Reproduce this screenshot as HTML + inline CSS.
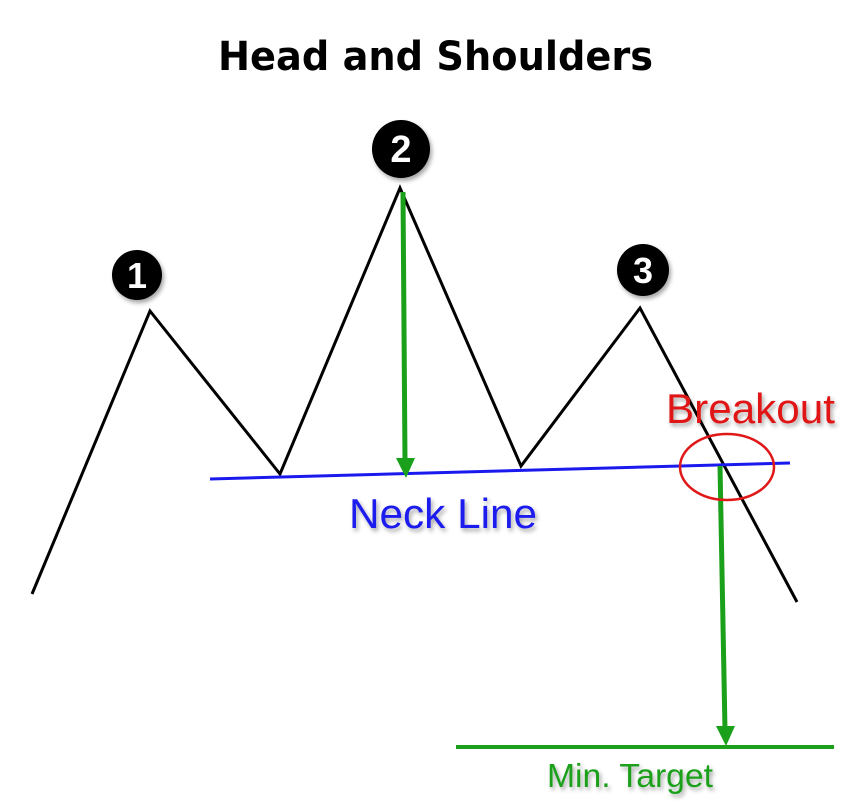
<!DOCTYPE html>
<html><head><style>html,body{margin:0;padding:0;background:#fff}svg{display:block}</style></head>
<body>
<svg width="849" height="805" viewBox="0 0 849 805" xmlns="http://www.w3.org/2000/svg">
<defs><filter id="s" x="-20%" y="-20%" width="150%" height="150%"><feDropShadow dx="2" dy="3" stdDeviation="2" flood-color="#000" flood-opacity="0.35"/></filter></defs>
<text x="218" y="70" textLength="435" lengthAdjust="spacingAndGlyphs" font-family="DejaVu Sans, sans-serif" font-weight="bold" font-size="40" fill="#000">Head and Shoulders</text>
<polyline points="32,594 150,311 280,474 400,188 521,466 640,308 797,602" fill="none" stroke="#000" stroke-width="3"/>
<line x1="210" y1="479" x2="790" y2="463" stroke="#1a1aee" stroke-width="3"/>
<line x1="403" y1="192" x2="405" y2="462" stroke="#1aa01a" stroke-width="5"/>
<polygon points="396,458 415,458 406,478" fill="#1aa01a"/>
<line x1="720" y1="466" x2="725" y2="730" stroke="#1aa01a" stroke-width="5"/>
<polygon points="716,726 735,726 726,746" fill="#1aa01a"/>
<line x1="456" y1="747" x2="834" y2="747" stroke="#1aa01a" stroke-width="4"/>
<ellipse cx="727" cy="467" rx="47" ry="33" fill="none" stroke="#e01818" stroke-width="2.5"/>
<g filter="url(#s)" font-family="Liberation Sans, sans-serif" font-weight="bold" fill="#fff" text-anchor="middle">
<circle cx="137" cy="275" r="25" fill="#000"/><text x="137" y="288" font-size="36">1</text>
<circle cx="401" cy="149" r="29" fill="#000"/><text x="401" y="162" font-size="38">2</text>
<circle cx="643" cy="270" r="26" fill="#000"/><text x="643" y="283" font-size="36">3</text>
</g>
<g font-family="Liberation Sans, sans-serif" filter="url(#s)">
<text x="666" y="423" textLength="169" lengthAdjust="spacingAndGlyphs" font-size="42" fill="#e01818">Breakout</text>
<text x="349" y="528" textLength="188" lengthAdjust="spacingAndGlyphs" font-size="42" fill="#1a1aee">Neck Line</text>
<text x="547" y="787" textLength="166" lengthAdjust="spacingAndGlyphs" font-size="33" fill="#1aa01a">Min. Target</text>
</g>
</svg>
</body></html>
